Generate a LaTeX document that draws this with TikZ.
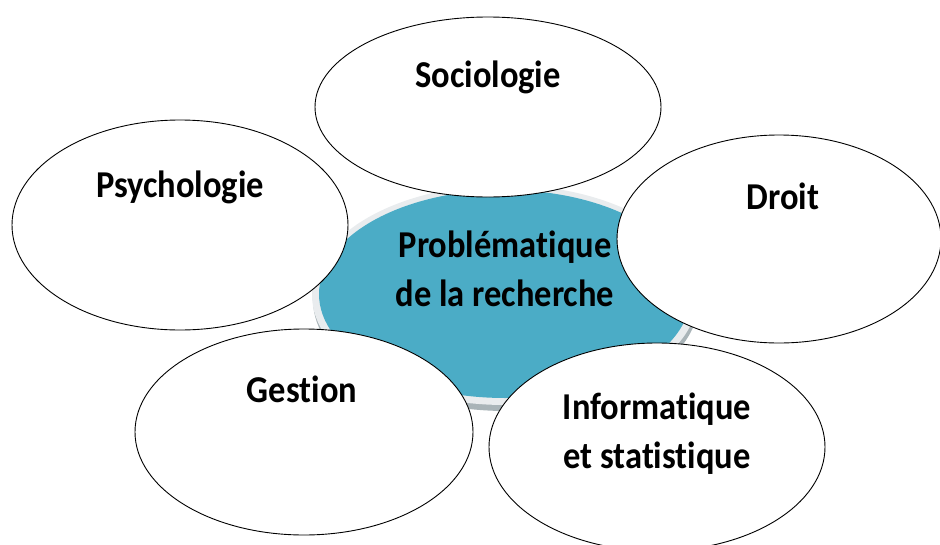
\documentclass[tikz,border=0pt]{standalone}
\usepackage{fontspec}
\usepackage{graphicx}
\setmainfont[Ligatures=NoCommon]{Carlito}
\usetikzlibrary{shapes.geometric}
\definecolor{teal5}{HTML}{4BACC6}
\definecolor{rimlight}{HTML}{E9ECEE}
\definecolor{rimdark}{HTML}{A9B4B8}
\newcommand{\tallt}[1]{\scalebox{1}[1.1]{\fontsize{34.5}{45}\selectfont\bfseries\begin{tabular}{@{}c@{}}#1\end{tabular}}}
\tikzset{
  disc/.style={ellipse, draw=black, line width=0.9pt, fill=white, inner sep=0pt},
  lbl/.style={inner sep=0pt},
}
\begin{document}
\begin{tikzpicture}[x=1pt,y=-1pt]
\useasboundingbox (0,0) rectangle (940,544);
% central ellipse with rim
\node[ellipse, fill=rimdark, minimum width=386pt, minimum height=222pt, inner sep=0pt] (rim2) at (506,300) {};
\node[ellipse, fill=rimlight, minimum width=386pt, minimum height=220pt, inner sep=0pt] (rim) at (505,295) {};
\node[ellipse, fill=teal5, minimum width=372pt, minimum height=208pt, inner sep=0pt] (core) at (505,294) {};
% outer ellipses
\node[disc, minimum width=346pt, minimum height=180pt] (soc) at (488,107) {};
\node[disc, minimum width=336pt, minimum height=210pt] (psy) at (180,225) {};
\node[disc, minimum width=324pt, minimum height=208pt] (dro) at (779,239) {};
\node[disc, minimum width=338pt, minimum height=206pt] (ges) at (304,432) {};
\node[disc, minimum width=336pt, minimum height=208pt] (inf) at (657,447) {};
% labels
\node[lbl] (tcore) at (505,272) {\tallt{Problématique\\de la recherche}};
\node[lbl] (tsoc) at (488,78) {\tallt{Sociologie}};
\node[lbl] (tpsy) at (180,188) {\tallt{Psychologie}};
\node[lbl] (tdro) at (783,200) {\tallt{Droit}};
\node[lbl] (tges) at (302,393) {\tallt{Gestion}};
\node[lbl] (tinf) at (657,434) {\tallt{Informatique\\et statistique}};
\end{tikzpicture}
\end{document}
